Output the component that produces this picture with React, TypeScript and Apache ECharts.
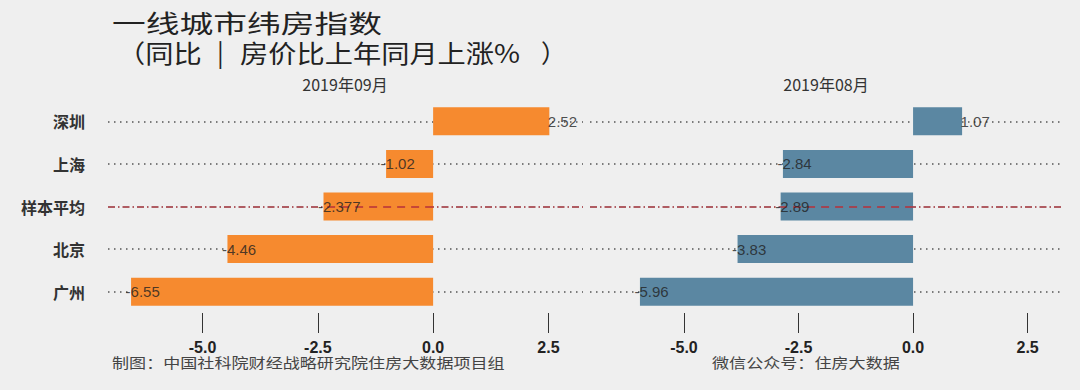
import React, { useEffect, useRef } from "react";
import * as echarts from "echarts";

const categories = ["深圳", "上海", "样本平均", "北京", "广州"];
const sepValues = [2.52, -1.02, -2.377, -4.46, -6.55];
const augValues = [1.07, -2.84, -2.89, -3.83, -5.96];
const tickValues = [-5, -2.5, 0, 2.5];
const panelTitles = ["2019年09月", "2019年08月"];
const panelColors = ["#f68a2f", "#5b87a2"];
const AVG = "样本平均";

export default function App() {
  const ref = useRef<HTMLDivElement>(null);
  useEffect(() => {
    if (!ref.current) return;
    const chart = echarts.init(ref.current, undefined, { renderer: "svg" });
    const panels = [sepValues, augValues];
    const series: any[] = [];
    panels.forEach((vals, p) => {
      series.push({
        type: "bar",
        xAxisIndex: p,
        yAxisIndex: p,
        data: vals,
        barWidth: 28,
        z: 2,
        itemStyle: { color: panelColors[p] },
        markLine: {
          z: 5,
          silent: true,
          symbol: ["none", "none"],
          label: { show: false },
          lineStyle: { color: "#b8303a", type: [8, 6], width: 1.5 },
          data: [[{ coord: [0, AVG] }, { coord: [vals[categories.indexOf(AVG)], AVG] }]],
        },
      });
      series.push({
        type: "scatter",
        xAxisIndex: p,
        yAxisIndex: p,
        z: 10,
        symbolSize: 1,
        itemStyle: { color: "rgba(0,0,0,0)" },
        data: vals.map((v, i) => ({
          value: [v, categories[i]],
          label: { offset: [v < 0 ? -6 : -2, 0] },
        })),
        label: {
          show: true,
          position: "right",
          distance: 0,
          fontSize: 15,
          color: "#222",
          fontFamily: "Liberation Sans, Arial, sans-serif",
          formatter: (d: any) => String(d.value[0]),
        },
        markLine: {
          z: 1,
          silent: true,
          symbol: ["none", "none"],
          label: { show: false },
          data: categories.map((c) =>
            c === AVG
              ? { yAxis: c, lineStyle: { color: "#9b2d35", type: [7, 3, 1.5, 3], width: 1.5 } }
              : { yAxis: c, lineStyle: { color: "#555", type: [1.5, 4.5], width: 1.5 } }
          ),
        },
      });
    });

    const titleStyle = { fontSize: 25, fontFamily: "Noto Sans CJK SC", fill: "#222", align: "left", verticalAlign: "middle" };

    const option: any = {
      animation: false,
      backgroundColor: "#efefef",
      grid: [
        { left: 108, top: 100, width: 475, height: 213 },
        { left: 590, top: 100, width: 472, height: 213 },
      ],
      xAxis: [0, 1].map((i) => ({
        type: "value",
        gridIndex: i,
        min: -7.05,
        max: 3.25,
        axisLine: { show: false },
        splitLine: { show: false },
        axisTick: { show: true, customValues: tickValues, length: 20, lineStyle: { color: "#333", width: 1 } },
        axisLabel: {
          customValues: tickValues,
          formatter: (v: number) => v.toFixed(1),
          margin: 26,
          fontSize: 16,
          fontWeight: "bold",
          color: "#222",
          fontFamily: "Liberation Sans, Arial, sans-serif",
        },
      })),
      yAxis: [0, 1].map((i) => ({
        type: "category",
        gridIndex: i,
        data: categories,
        inverse: true,
        axisLine: { show: false },
        axisTick: { show: false },
        splitLine: { show: false },
        axisLabel: {
          show: i === 0,
          margin: 23,
          fontSize: 16,
          fontWeight: "bold",
          color: "#333",
          fontFamily: "Noto Sans CJK SC",
        },
      })),
      graphic: [
        { type: "text", x: 112, y: 22, scaleX: 1.35, style: { ...titleStyle, text: "一线城市纬房指数" } },
        { type: "text", x: 117, y: 52, scaleX: 1.13, style: { ...titleStyle, text: "（同比" } },
        { type: "text", x: 217, y: 51, scaleX: 1.0, style: { ...titleStyle, text: "|" } },
        { type: "text", x: 240, y: 52, scaleX: 1.13, style: { ...titleStyle, text: "房价比上年同月上涨%" } },
        { type: "text", x: 541, y: 52, scaleX: 1.0, style: { ...titleStyle, text: "）" } },
        {
          type: "text",
          x: 345,
          y: 84,
          style: { text: panelTitles[0], fontSize: 16, fontFamily: "Noto Sans CJK SC", fill: "#333", align: "center", verticalAlign: "middle" },
        },
        {
          type: "text",
          x: 826,
          y: 84,
          style: { text: panelTitles[1], fontSize: 16, fontFamily: "Noto Sans CJK SC", fill: "#333", align: "center", verticalAlign: "middle" },
        },
        {
          type: "text",
          x: 112,
          y: 362,
          scaleX: 1.22,
          style: { text: "制图：中国社科院财经战略研究院住房大数据项目组", fontSize: 14, fontFamily: "Noto Sans CJK SC", fill: "#444", align: "left", verticalAlign: "middle" },
        },
        {
          type: "text",
          x: 712,
          y: 362,
          scaleX: 1.22,
          style: { text: "微信公众号：住房大数据", fontSize: 14, fontFamily: "Noto Sans CJK SC", fill: "#444", align: "left", verticalAlign: "middle" },
        },
      ],
      series,
    };
    chart.setOption(option);
    return () => chart.dispose();
  }, []);
  return (
    <div
      ref={ref}
      style={{ position: "fixed", left: 0, top: 0, width: 1080, height: 390 }}
    />
  );
}
